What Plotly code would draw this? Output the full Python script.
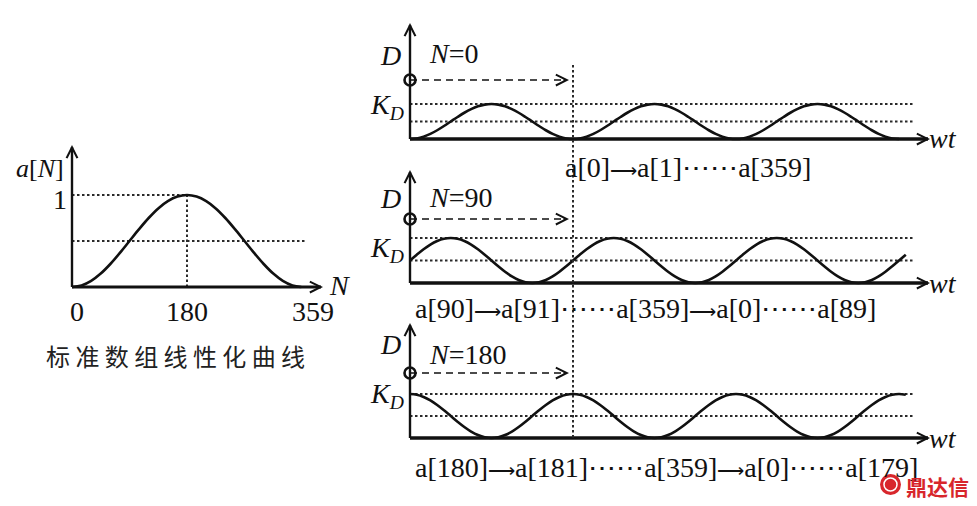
import plotly.graph_objects as go

# ---------------- data ----------------
# standard array a[N] (linearisation curve), read at 15-step indices
N_IDX = [0, 15, 30, 45, 60, 75, 90, 105, 120, 135, 150, 165, 180,
         195, 210, 225, 240, 255, 270, 285, 300, 315, 330, 345, 359]
A_VAL = [0.000, 0.017, 0.067, 0.146, 0.250, 0.371, 0.500, 0.629, 0.750, 0.854, 0.933, 0.983, 1.000,
         0.983, 0.933, 0.854, 0.750, 0.629, 0.500, 0.371, 0.250, 0.146, 0.067, 0.017, 0.000]
LEFT_TICKS = [0, 180, 359]
LEFT_TICK_TEXT = ["0", "180", "359"]
PANEL_START_N = [0, 90, 180]
PANEL_END_WT = [1080, 1095, 1095]
WT_STEP = 15
PANEL_LABELS = [
    "a[0]⟶a[1]⋯⋯a[359]",
    "a[90]⟶a[91]⋯⋯a[359]⟶a[0]⋯⋯a[89]",
    "a[180]⟶a[181]⋯⋯a[359]⟶a[0]⋯⋯a[179]",
]
CAPTION = "标准数组线性化曲线"
WATERMARK = "鼎达信"

# ---------------- layout geometry (pixels) ----------------
W, H = 977, 506
SERIF = "Liberation Serif, Times New Roman, serif"
INK = "#111111"
DOT = "#2a2a2a"

def lin_range(p_a, v_a, p_b, v_b, total):
    k = (p_b - p_a) / (v_b - v_a)
    return [v_a - p_a / k, v_a + (total - p_a) / k]

# left chart anchors
L_X0, L_X180 = 72, 187
L_Y0, L_Y1 = 287, 195
lx_range = lin_range(L_X0, 0, L_X180, 180, W)
ly_range = lin_range(H - L_Y0, 0, H - L_Y1, 1, H)
def lN(px):
    return (px - L_X0) * 180 / (L_X180 - L_X0)
def la(py):
    return (L_Y0 - py) / (L_Y0 - L_Y1)

# right panels anchors
R_X0, R_X360 = 410, 573
rx_range = lin_range(R_X0, 0, R_X360, 360, W)
def rwt(px):
    return (px - R_X0) * 360 / (R_X360 - R_X0)

PANELS = [
    dict(base=139, top=104, ytip=23, circ=80, D=(390, 55), N=(427, 53), K=(387, 106), lab=(563, 167)),
    dict(base=283, top=238, ytip=170, circ=219, D=(390, 199), N=(427, 197), K=(387, 249), lab=(413, 308)),
    dict(base=438, top=394, ytip=323, circ=373, D=(390, 344), N=(427, 354), K=(387, 395), lab=(413, 467)),
]
X_TIP, DOT_END, DASH_END, WT_LAB = 930, 913, 569, 943

def px(x):
    return x / W
def py(y):
    return 1 - y / H

def fmt_label(s):
    # draw the long arrow a little smaller so it keeps the reference's width
    return s.replace("⟶", '<span style="font-size:19px">⟶</span>')

fig = go.Figure()
ann = []

def head(xref, yref, xt, yt, xa, ya):
    ann.append(dict(x=xt, y=yt, ax=xa, ay=ya, xref=xref, yref=yref, axref=xref, ayref=yref,
                    showarrow=True, arrowhead=5, arrowsize=1.25, arrowwidth=1.7,
                    arrowcolor=INK, text=""))

def label(text, x, y, size=28, xanchor="center", family=SERIF, color=INK):
    ann.append(dict(text=text, x=px(x), y=py(y), xref="paper", yref="paper",
                    showarrow=False, xanchor=xanchor, yanchor="middle",
                    font=dict(family=family, size=size, color=color)))

# ---------- left chart ----------
fig.add_trace(go.Scatter(x=[0, 180, None, 180, 180, None, 0, lN(307)],
                         y=[1, 1, None, 0, 1, None, 0.5, 0.5],
                         mode="lines", line=dict(color=DOT, width=2, dash="2.5px,2.5px"),
                         xaxis="x", yaxis="y", hoverinfo="skip"))
fig.add_trace(go.Scatter(x=N_IDX, y=A_VAL, mode="lines",
                         line=dict(color=INK, width=2.6, shape="spline"),
                         xaxis="x", yaxis="y"))
fig.add_trace(go.Scatter(x=[0, 0], y=[0, la(147)], mode="lines",
                         line=dict(color=INK, width=2.4), xaxis="x", yaxis="y", hoverinfo="skip"))
fig.add_trace(go.Scatter(x=[0, lN(321)], y=[0, 0], mode="lines",
                         line=dict(color=INK, width=3.2), xaxis="x", yaxis="y", hoverinfo="skip"))
head("x", "y", 0, la(145), 0, la(160))
head("x", "y", lN(323), 0, lN(308), 0)

label("<i>a</i>[<i>N</i>]", 40, 168, size=26)
label("1", 60, 200)
label("<i>N</i>", 339, 285)
tick_px = [77, 187, 313]
for t, txt, tx in zip(LEFT_TICKS, LEFT_TICK_TEXT, tick_px):
    label(txt, tx, 311)
label(" ".join(CAPTION), 175, 355, size=24, family="Noto Sans CJK SC", color="#222222")

# ---------- right panels ----------
yaxes = ["y2", "y3", "y4"]
for k, (pn, ya, start, wend, txt) in enumerate(zip(PANELS, yaxes, PANEL_START_N, PANEL_END_WT, PANEL_LABELS)):
    base, top = pn["base"], pn["top"]
    def dD(yy, base=base, top=top):
        return (base - yy) / (base - top)
    wt = list(range(0, wend + 1, WT_STEP))
    D = [A_VAL[((start + w) % 360) // WT_STEP] for w in wt]
    # dotted reference lines
    fig.add_trace(go.Scatter(x=[0, rwt(DOT_END), None, 0, rwt(DOT_END)], y=[1, 1, None, 0.5, 0.5],
                             mode="lines", line=dict(color=DOT, width=2, dash="2.5px,2.5px"),
                             xaxis="x2", yaxis=ya, hoverinfo="skip"))
    # curve
    fig.add_trace(go.Scatter(x=wt, y=D, mode="lines", line=dict(color=INK, width=2.6, shape="spline"),
                             xaxis="x2", yaxis=ya))
    # axes
    fig.add_trace(go.Scatter(x=[0, 0], y=[0, dD(pn["ytip"] + 2)], mode="lines",
                             line=dict(color=INK, width=2.4), xaxis="x2", yaxis=ya, hoverinfo="skip"))
    fig.add_trace(go.Scatter(x=[0, rwt(X_TIP - 2)], y=[0, 0], mode="lines",
                             line=dict(color=INK, width=3.4), xaxis="x2", yaxis=ya, hoverinfo="skip"))
    head("x2", ya, 0, dD(pn["ytip"]), 0, dD(pn["ytip"] + 15))
    head("x2", ya, rwt(X_TIP), 0, rwt(X_TIP - 15), 0)
    # dashed pointer
    dc = dD(pn["circ"])
    fig.add_trace(go.Scatter(x=[0, rwt(DASH_END - 3)], y=[dc, dc], mode="lines",
                             line=dict(color=INK, width=1.6, dash="7px,5px"),
                             xaxis="x2", yaxis=ya, hoverinfo="skip"))
    head("x2", ya, rwt(DASH_END), dc, rwt(DASH_END - 6), dc)
    fig.add_trace(go.Scatter(x=[0], y=[dc], mode="markers",
                             marker=dict(symbol="circle-open", size=11, color=INK, line=dict(width=2.6)),
                             xaxis="x2", yaxis=ya))
    # labels
    label("<i>D</i>", pn["D"][0], pn["D"][1])
    label("<i>N</i>=" + str(start), pn["N"][0], pn["N"][1], xanchor="left")
    label("<i>K<sub>D</sub></i>", pn["K"][0], pn["K"][1])
    label("<i>wt</i>", WT_LAB, base, xanchor="center")
    label(fmt_label(txt), pn["lab"][0], pn["lab"][1], xanchor="left")

# vertical dotted line at wt = 360 (a[0] position of first panel)
shapes = [dict(type="line", xref="x2", yref="paper", x0=360, x1=360, y0=py(65), y1=py(PANELS[2]["base"]),
               line=dict(color=DOT, width=2, dash="2.5px,2.5px"))]

# watermark
shapes.append(dict(type="circle", xref="paper", yref="paper",
                   x0=px(880), x1=px(901), y0=py(495), y1=py(474),
                   fillcolor="#d8262c", line=dict(width=0)))
shapes.append(dict(type="circle", xref="paper", yref="paper",
                   x0=px(884), x1=px(897), y0=py(491), y1=py(478),
                   fillcolor="rgba(0,0,0,0)", line=dict(width=1.5, color="white")))
label("<b>" + WATERMARK + "</b>", 904, 486, size=21, xanchor="left",
      family="Noto Sans CJK SC", color="#d8262c")

ax_common = dict(visible=False, fixedrange=True, domain=[0, 1])
fig.update_layout(
    width=W, height=H, margin=dict(l=0, r=0, t=0, b=0, pad=0),
    paper_bgcolor="white", plot_bgcolor="rgba(0,0,0,0)", showlegend=False,
    xaxis=dict(range=lx_range, anchor="y", **ax_common),
    yaxis=dict(range=ly_range, anchor="x", **ax_common),
    xaxis2=dict(range=rx_range, anchor="y2", **ax_common),
    yaxis2=dict(range=lin_range(H - PANELS[0]["base"], 0, H - PANELS[0]["top"], 1, H), anchor="x2", **ax_common),
    yaxis3=dict(range=lin_range(H - PANELS[1]["base"], 0, H - PANELS[1]["top"], 1, H), anchor="x2", **ax_common),
    yaxis4=dict(range=lin_range(H - PANELS[2]["base"], 0, H - PANELS[2]["top"], 1, H), anchor="x2", **ax_common),
    annotations=ann, shapes=shapes,
)

fig.write_html("out.html", config={"displayModeBar": False, "staticPlot": True},
               post_script="document.body.style.margin='0';document.body.style.overflow='hidden';")
